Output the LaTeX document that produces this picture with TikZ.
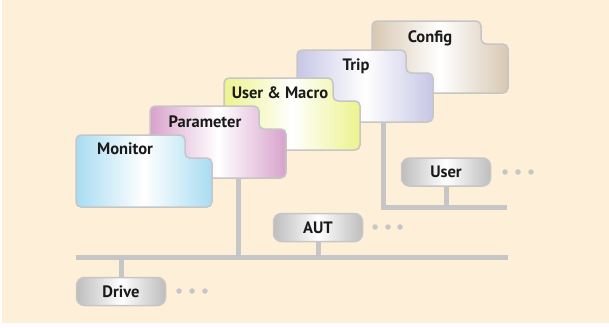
\documentclass[tikz,border=0pt]{standalone}
\usepackage{fontspec}
\setmainfont{PT Sans}
\definecolor{bg}{HTML}{FEF0D8}
\definecolor{linegray}{HTML}{C6C6C6}
\definecolor{boxgray}{HTML}{BDBDBD}
\definecolor{txt}{HTML}{1A1A1A}
\definecolor{cmon}{HTML}{A8DCF2}
\definecolor{cpar}{HTML}{D8A2CC}
\definecolor{cusr}{HTML}{ECF38C}
\definecolor{ctrip}{HTML}{C6C6E6}
\definecolor{ccfg}{HTML}{D8C8B2}
\tikzset{
  bus/.style={draw=linegray, line width=5pt},
  folderline/.style={draw=linegray, line width=1.5pt, rounded corners=5pt},
  lbl/.style={font=\bfseries\fontsize{16.5}{18}\selectfont, text=txt, inner sep=0pt},
  devbox/.style={draw=linegray, line width=1.5pt, rounded corners=8pt, minimum width=89pt, minimum height=28pt,
     left color=boxgray, right color=boxgray, middle color=white, inner sep=0pt,
     font=\bfseries\fontsize{16.5}{18}\selectfont, text=txt},
  dot/.style={circle, fill=linegray, inner sep=0pt, minimum size=5.5pt},
}
\newcommand{\folder}[4]{% x0, y0, color, name
  \path[folderline, left color=#3, right color=#3, middle color=white]
    (#1,#2+72) -- (#1,#2) -- (#1+109,#2) -- (#1+109,#2+23) -- (#1+136,#2+23) -- (#1+136,#2+72) -- cycle;
}
\begin{document}
\begin{tikzpicture}[x=1pt,y=-1pt]
\useasboundingbox (0,0) rectangle (609,327);
\fill[white] (0,0) rectangle (609,327);
\fill[bg] (2,0) rectangle (609,323);

% coordinates
\coordinate (busL) at (76,257);
\coordinate (busR) at (508,257);
\coordinate (tripB) at (383,122);
\coordinate (ubusL) at (383,207);
\coordinate (ubusR) at (507,207);
\coordinate (parB) at (238,179);
\coordinate (parJ) at (238,257);

% buses
\draw[bus] (busL) -- (busR);
\draw[bus] (tripB) -- (ubusL) -- (ubusR);
\draw[bus] (parB) -- (parJ);

% folders (back to front)
\folder{372}{21}{ccfg}{cfg}
\node[lbl] (cfg) at (430,38) {Config};
\folder{297}{50}{ctrip}{trip}
\node[lbl] (trip) at (356,66) {Trip};
\folder{224}{78}{cusr}{usr}
\node[lbl] (usr) at (280,93) {User \& Macro};
\folder{150}{106}{cpar}{par}
\node[lbl] (par) at (205,122) {Parameter};
\folder{76}{135}{cmon}{mon}
\node[lbl] (mon) at (125,149) {Monitor};

% devices
\node[devbox] (user) at (446,172) {User};
\node[devbox] (aut) at (318,227.5) {AUT};
\node[devbox] (drive) at (121,291.5) {Drive};

\coordinate (userJ) at (446,207);
\coordinate (autJ) at (318,257);
\coordinate (driveJ) at (121,257);
\draw[bus] (user.south) -- (userJ);
\draw[bus] (aut.south) -- (autJ);
\draw[bus] (driveJ) -- (drive.north);

% ellipsis dots
\foreach \i/\x in {1/505,2/518,3/531} \node[dot] (ud\i) at (\x,172) {};
\foreach \i/\x in {1/375,2/388,3/400} \node[dot] (ad\i) at (\x,227) {};
\foreach \i/\x in {1/179,2/192,3/205} \node[dot] (dd\i) at (\x,291) {};
\end{tikzpicture}
\end{document}
